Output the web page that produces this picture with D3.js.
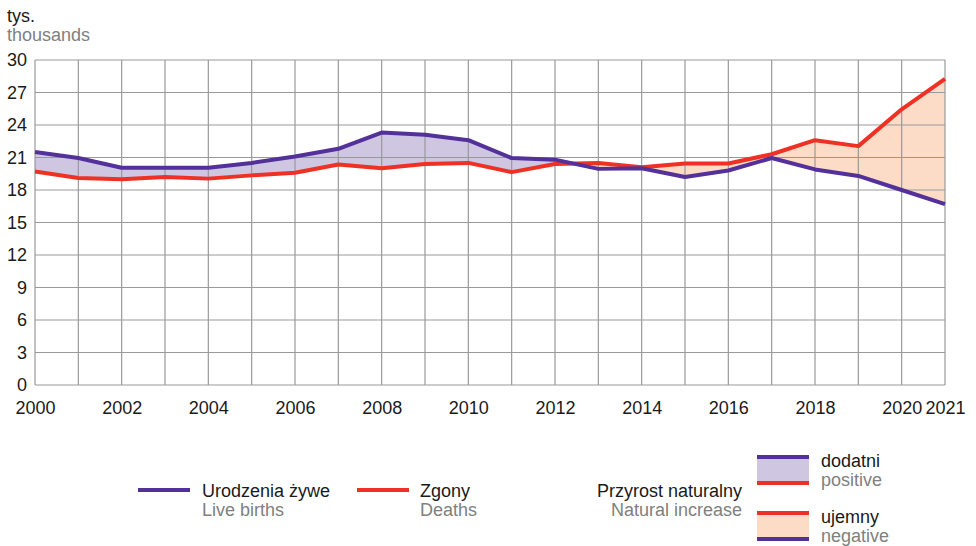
<!DOCTYPE html>
<html>
<head>
<meta charset="utf-8">
<script src="https://cdn.jsdelivr.net/npm/d3@7"></script>
<style>
  body { margin: 0; background: #fff; }
  text { font-family: "Liberation Sans", Arial, sans-serif; }
</style>
</head>
<body>
<div id="chart"></div>
<script>
//Width and height
var w = 976;
var h = 546;

//Data
var years = [2000, 2001, 2002, 2003, 2004, 2005, 2006, 2007, 2008, 2009, 2010,
             2011, 2012, 2013, 2014, 2015, 2016, 2017, 2018, 2019, 2020, 2021];
var births = [21.5, 20.95, 20.05, 20.05, 20.05, 20.5, 21.1, 21.8, 23.3, 23.1, 22.6,
              20.95, 20.8, 19.95, 20.0, 19.2, 19.8, 20.95, 19.9, 19.3, 18.0, 16.7];
var deaths = [19.7, 19.1, 19.0, 19.2, 19.05, 19.35, 19.6, 20.35, 20.0, 20.4, 20.5,
              19.65, 20.4, 20.5, 20.1, 20.45, 20.45, 21.3, 22.6, 22.05, 25.45, 28.25];
var yTicks = [0, 3, 6, 9, 12, 15, 18, 21, 24, 27, 30];
var xLabels = [2000, 2002, 2004, 2006, 2008, 2010, 2012, 2014, 2016, 2018, 2020, 2021];

var purple = "#53309a";
var red = "#ee3124";
var posFill = "#cfc6e1";
var negFill = "#fcdcc6";
var gray = "#808080";
var fs = 18;

var data = years.map(function(y, i) {
    return { year: y, b: births[i], d: deaths[i] };
});

//Scales
var x = d3.scaleLinear().domain([2000, 2021]).range([35, 945]);
var y = d3.scaleLinear().domain([0, 30]).range([385, 60]);

//Create SVG element
var svg = d3.select("#chart")
            .append("svg")
            .attr("width", w)
            .attr("height", h);

// clip regions: below births line / below deaths line
var defs = svg.append("defs");
defs.append("clipPath").attr("id", "belowB")
    .append("path")
    .attr("d", d3.area().x(function(d) { return x(d.year); })
        .y0(y(0)).y1(function(d) { return y(d.b); })(data));
defs.append("clipPath").attr("id", "belowD")
    .append("path")
    .attr("d", d3.area().x(function(d) { return x(d.year); })
        .y0(y(0)).y1(function(d) { return y(d.d); })(data));

var between = d3.area()
    .x(function(d) { return x(d.year); })
    .y0(function(d) { return y(d.b); })
    .y1(function(d) { return y(d.d); });

svg.append("path").attr("d", between(data))
    .attr("fill", posFill).attr("clip-path", "url(#belowB)");
svg.append("path").attr("d", between(data))
    .attr("fill", negFill).attr("clip-path", "url(#belowD)");

//Grid
var grid = svg.append("g");
grid.selectAll("line.v")
    .data(years)
    .enter()
    .append("line")
    .attr("x1", function(d) { return x(d); })
    .attr("x2", function(d) { return x(d); })
    .attr("y1", y(30))
    .attr("y2", y(0))
    .attr("stroke", "#999")
    .attr("stroke-width", 1.2);
grid.selectAll("line.h")
    .data(yTicks)
    .enter()
    .append("line")
    .attr("x1", x(2000))
    .attr("x2", x(2021))
    .attr("y1", function(d) { return y(d); })
    .attr("y2", function(d) { return y(d); })
    .attr("stroke", "#999")
    .attr("stroke-width", 1.2);

//Axes labels
var yAxis = d3.axisLeft(y).tickValues(yTicks).tickSize(0).tickPadding(8);
var gy = svg.append("g").attr("transform", "translate(" + x(2000) + ",0)").call(yAxis);
gy.select(".domain").remove();
gy.selectAll("text").attr("font-size", fs).attr("fill", "#1a1a1a")
    .attr("font-family", "Liberation Sans, Arial, sans-serif");

var xAxis = d3.axisBottom(x).tickValues(xLabels).tickFormat(d3.format("d")).tickSize(0).tickPadding(16);
var gx = svg.append("g").attr("transform", "translate(0," + y(0) + ")").call(xAxis);
gx.select(".domain").remove();
gx.selectAll("text").attr("font-size", fs).attr("fill", "#1a1a1a")
    .attr("font-family", "Liberation Sans, Arial, sans-serif");

//Lines
var lineB = d3.line().x(function(d) { return x(d.year); }).y(function(d) { return y(d.b); });
var lineD = d3.line().x(function(d) { return x(d.year); }).y(function(d) { return y(d.d); });

svg.append("path").attr("d", lineD(data))
    .attr("fill", "none").attr("stroke", red).attr("stroke-width", 4)
    .attr("stroke-linejoin", "round");
svg.append("path").attr("d", lineB(data))
    .attr("fill", "none").attr("stroke", purple).attr("stroke-width", 4)
    .attr("stroke-linejoin", "round");

//Unit
svg.append("text").attr("x", 7).attr("y", 22).attr("font-size", fs).attr("fill", "#1a1a1a").text("tys.");
svg.append("text").attr("x", 7).attr("y", 41).attr("font-size", fs).attr("fill", gray).text("thousands");

//Legend
function legText(xp, yp, pl, en, anchor) {
    svg.append("text").attr("x", xp).attr("y", yp).attr("font-size", fs)
        .attr("fill", "#1a1a1a").attr("text-anchor", anchor || "start").text(pl);
    svg.append("text").attr("x", xp).attr("y", yp + 19).attr("font-size", fs)
        .attr("fill", gray).attr("text-anchor", anchor || "start").text(en);
}

svg.append("line").attr("x1", 138).attr("x2", 190).attr("y1", 490).attr("y2", 490)
    .attr("stroke", purple).attr("stroke-width", 4);
legText(202, 497, "Urodzenia żywe", "Live births");

svg.append("line").attr("x1", 357).attr("x2", 409).attr("y1", 490).attr("y2", 490)
    .attr("stroke", red).attr("stroke-width", 4);
legText(420, 497, "Zgony", "Deaths");

legText(742, 497, "Przyrost naturalny", "Natural increase", "end");

// positive box
svg.append("rect").attr("x", 757).attr("y", 457).attr("width", 52).attr("height", 26).attr("fill", posFill);
svg.append("line").attr("x1", 757).attr("x2", 809).attr("y1", 457).attr("y2", 457).attr("stroke", purple).attr("stroke-width", 4);
svg.append("line").attr("x1", 757).attr("x2", 809).attr("y1", 483).attr("y2", 483).attr("stroke", red).attr("stroke-width", 4);
legText(821, 467, "dodatni", "positive");

// negative box
svg.append("rect").attr("x", 757).attr("y", 513).attr("width", 52).attr("height", 26).attr("fill", negFill);
svg.append("line").attr("x1", 757).attr("x2", 809).attr("y1", 513).attr("y2", 513).attr("stroke", red).attr("stroke-width", 4);
svg.append("line").attr("x1", 757).attr("x2", 809).attr("y1", 539).attr("y2", 539).attr("stroke", purple).attr("stroke-width", 4);
legText(821, 523, "ujemny", "negative");
</script>
</body>
</html>
